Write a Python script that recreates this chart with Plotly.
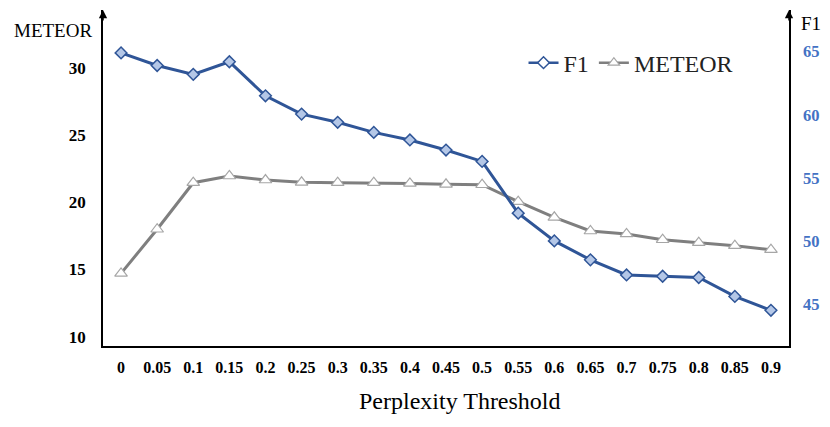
import plotly.graph_objects as go

thresholds = ["0", "0.05", "0.1", "0.15", "0.2", "0.25", "0.3", "0.35", "0.4", "0.45",
              "0.5", "0.55", "0.6", "0.65", "0.7", "0.75", "0.8", "0.85", "0.9"]
f1_values = [64.9, 63.9, 63.2, 64.2, 61.5, 60.05, 59.4, 58.6, 58.0, 57.2,
             56.3, 52.2, 50.0, 48.5, 47.3, 47.2, 47.1, 45.6, 44.5]
meteor_values = [14.71, 17.99, 21.45, 21.95, 21.65, 21.48, 21.45, 21.45, 21.4, 21.33,
                 21.3, 20.04, 18.88, 17.86, 17.64, 17.21, 16.99, 16.77, 16.47]
left_ticks = [10, 15, 20, 25, 30]
right_ticks = [45, 50, 55, 60, 65]

SERIF = "Liberation Serif, Times New Roman, serif"
BLUE = "#2F5597"
GRAY = "#7F7F7F"

fig = go.Figure()
fig.add_trace(go.Scatter(
    x=thresholds, y=f1_values, name="F1", yaxis="y2", mode="lines+markers",
    showlegend=False,
    line=dict(color=BLUE, width=3),
    marker=dict(symbol="diamond", size=9, color="#B4C7E7", line=dict(color=BLUE, width=1.5)),
))
fig.add_trace(go.Scatter(
    x=thresholds, y=meteor_values, name="METEOR", yaxis="y", mode="lines+markers",
    showlegend=False,
    line=dict(color=GRAY, width=3),
    marker=dict(symbol="triangle-up", size=11, color="white", line=dict(color="#A6A6A6", width=1.2)),
))
# legend entries (white-filled markers as in the reference legend)
fig.add_trace(go.Scatter(
    x=[None], y=[None], name="F1", yaxis="y2", mode="lines+markers",
    line=dict(color=BLUE, width=2.5),
    marker=dict(symbol="diamond", size=9, color="white", line=dict(color=BLUE, width=1.5)),
))
fig.add_trace(go.Scatter(
    x=[None], y=[None], name="METEOR", yaxis="y", mode="lines+markers",
    line=dict(color=GRAY, width=2.5),
    marker=dict(symbol="triangle-up", size=10, color="white", line=dict(color="#A6A6A6", width=1.2)),
))

fig.update_layout(
    width=822, height=419,
    margin=dict(l=95, r=41, t=2, b=81, autoexpand=False),
    paper_bgcolor="white", plot_bgcolor="white",
    font=dict(family=SERIF, color="black"),
    showlegend=True,
    legend=dict(orientation="h", x=0.613, y=0.842, xanchor="left", yanchor="middle",
                font=dict(family=SERIF, size=24, color="#222222"),
                bgcolor="rgba(0,0,0,0)", itemwidth=30, tracegroupgap=0),
    xaxis=dict(type="category", categoryorder="array", categoryarray=thresholds,
               range=[-0.5, 18.5], showgrid=False, zeroline=False,
               showline=True, linecolor="black", linewidth=1.5, mirror=False,
               ticks="", ticklabelstandoff=6,
               tickfont=dict(family=SERIF, size=16, color="black", weight="bold")),
    yaxis=dict(range=[9.31, 34.29], tickvals=left_ticks, showgrid=False, zeroline=False,
               showline=True, linecolor="black", linewidth=1.5, ticks="",
               ticklabelstandoff=12,
               tickfont=dict(family=SERIF, size=17, color="black", weight="bold")),
    yaxis2=dict(range=[41.67, 68.3], tickvals=right_ticks, overlaying="y", side="right",
                showgrid=False, zeroline=False, showline=True, linecolor="black",
                linewidth=1.5, ticks="", ticklabelstandoff=9,
                tickfont=dict(family=SERIF, size=16.5, color="#4472C4", weight="bold")),
)

# axis arrows
for xp in (0, 1):
    fig.add_annotation(x=xp, y=1.0, xref="paper", yref="paper", ax=0, ay=12,
                       axref="pixel", ayref="pixel", text="", showarrow=True,
                       arrowhead=2, arrowsize=1.1, arrowwidth=1.5, arrowcolor="black",
                       standoff=0)

fig.add_annotation(x=-0.133, y=0.94, xref="paper", yref="paper", text="METEOR",
                   showarrow=False, xanchor="left", yanchor="middle",
                   font=dict(family=SERIF, size=19, color="black"))
fig.add_annotation(x=1.014, y=0.96, xref="paper", yref="paper", text="F1",
                   showarrow=False, xanchor="left", yanchor="middle",
                   font=dict(family=SERIF, size=19, color="black"))
fig.add_annotation(x=0.52, y=-0.165, xref="paper", yref="paper", text="Perplexity Threshold",
                   showarrow=False, xanchor="center", yanchor="middle",
                   font=dict(family=SERIF, size=24, color="black"))

fig.write_html("out.html")
